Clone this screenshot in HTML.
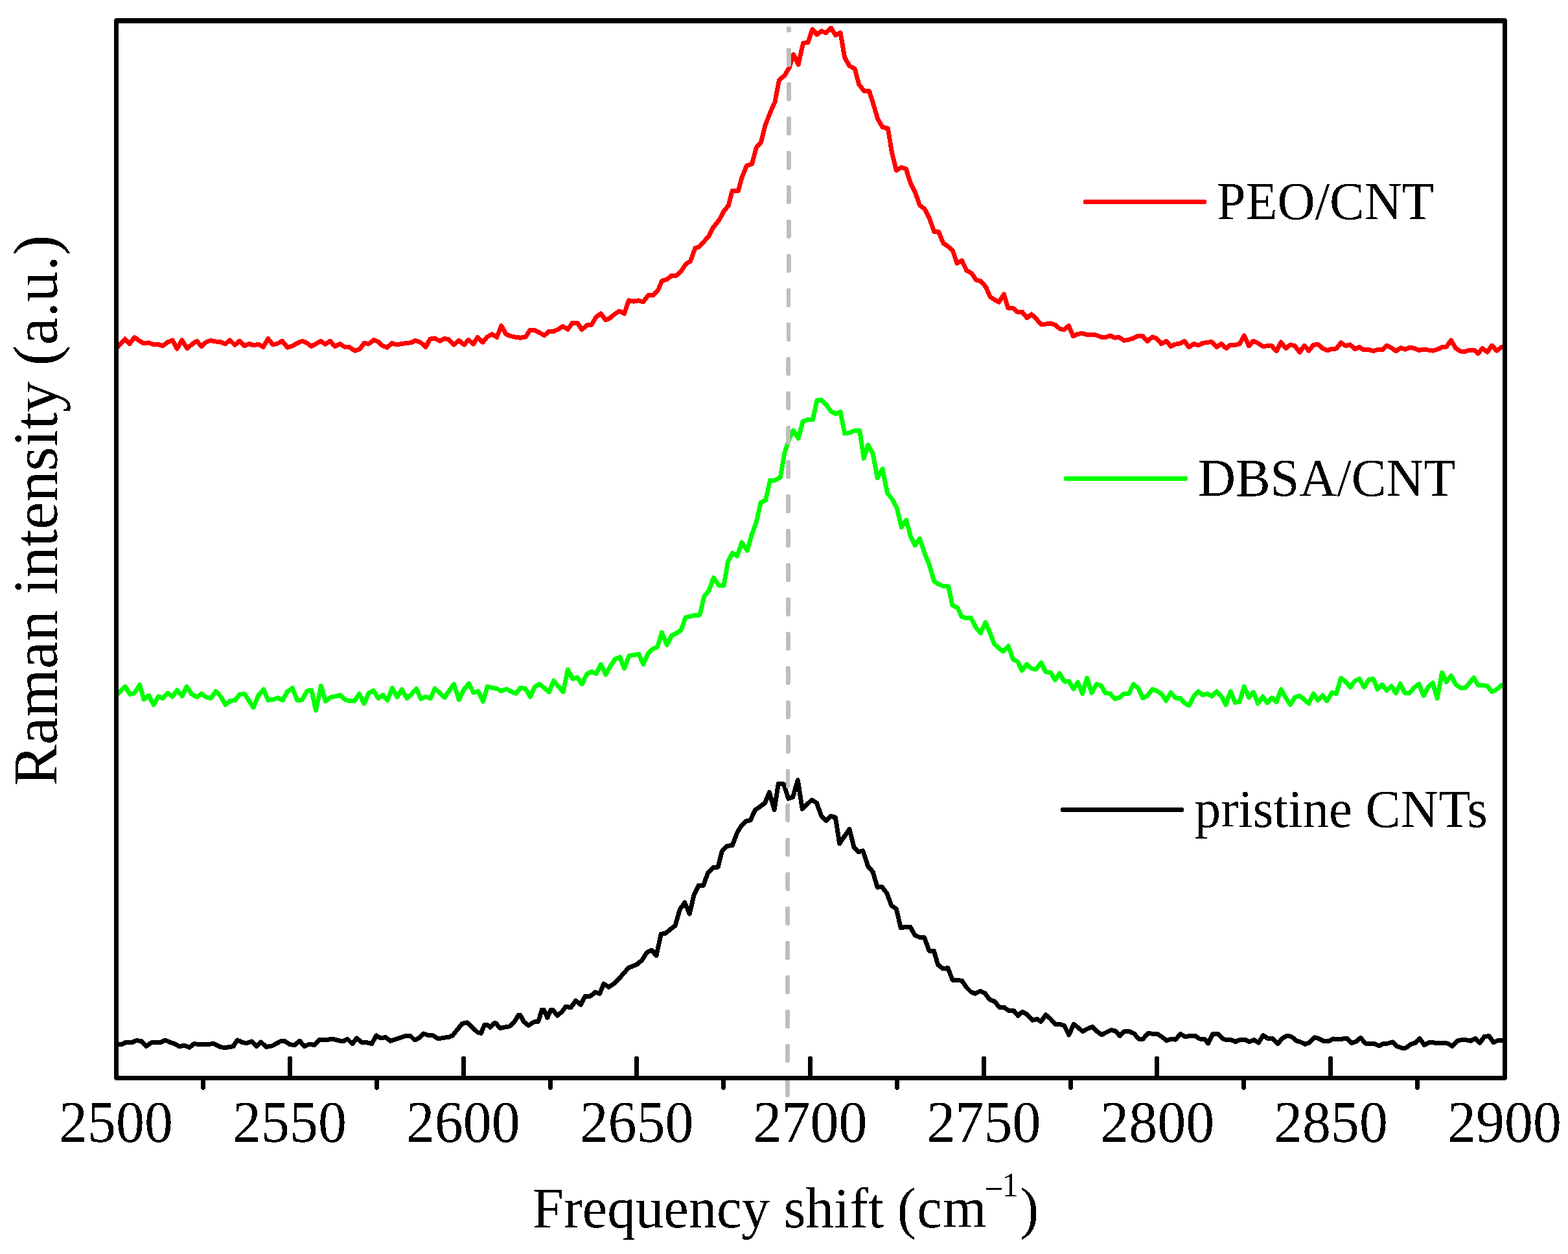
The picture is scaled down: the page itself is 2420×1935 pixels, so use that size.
<!DOCTYPE html>
<html lang="en"><head><meta charset="utf-8"><title>Raman spectra</title>
<style>html,body{margin:0;padding:0;background:#fff}body{width:2420px;height:1935px}svg{display:block}text{font-family:"Liberation Serif","Times New Roman",serif;fill:#000;filter:url(#bw)}rect,path,line{shape-rendering:crispEdges}.c{fill:none;stroke-width:7;stroke-linejoin:round;stroke-linecap:butt;shape-rendering:crispEdges}</style>
</head><body>
<svg width="2420" height="1935" viewBox="0 0 2420 1935">
<rect x="0" y="0" width="2420" height="1935" fill="#fff"/>
<filter id="bw" x="-5%" y="-20%" width="110%" height="140%" color-interpolation-filters="sRGB"><feComponentTransfer><feFuncA type="discrete" tableValues="0 1"/></feComponentTransfer></filter>
<clipPath id="plot"><rect x="179.5" y="32.0" width="2143.0" height="1631.5"/></clipPath>
<path id="dbsa" class="c" clip-path="url(#plot)" stroke="#00ff00" d="M181.0,1072.0 L193.2,1059.5 L200.5,1071.2 L207.5,1069.5 L215.5,1056.8 L222.0,1079.2 L229.5,1073.2 L237.0,1087.5 L244.5,1074.5 L251.2,1077.5 L258.8,1069.5 L266.2,1075.0 L273.2,1065.0 L281.2,1074.2 L288.2,1059.5 L295.8,1071.2 L303.8,1075.5 L310.8,1070.5 L318.0,1075.5 L325.5,1077.5 L333.0,1066.8 L340.5,1074.5 L348.0,1087.5 L355.5,1081.2 L362.5,1080.8 L370.0,1071.2 L377.5,1070.8 L384.5,1081.8 L391.2,1091.8 L398.8,1073.0 L407.0,1063.8 L413.8,1080.5 L420.8,1079.5 L428.8,1076.8 L436.2,1080.5 L443.2,1067.5 L451.2,1061.8 L458.8,1080.5 L466.2,1080.0 L473.8,1066.2 L480.8,1065.0 L487.5,1096.2 L495.5,1058.2 L502.5,1082.0 L510.0,1076.2 L517.5,1074.5 L525.0,1072.5 L532.5,1079.5 L540.0,1081.8 L547.5,1081.2 L554.5,1070.5 L562.0,1085.8 L569.2,1069.5 L576.5,1065.8 L583.8,1077.5 L590.8,1072.5 L598.0,1080.8 L605.5,1061.8 L613.0,1075.8 L620.0,1063.8 L628.0,1077.5 L635.0,1071.2 L642.5,1062.5 L649.5,1078.2 L657.0,1075.0 L664.5,1077.5 L671.2,1062.5 L678.8,1069.5 L686.2,1076.2 L693.2,1065.8 L700.5,1055.5 L708.3,1079.9 L715.8,1064.1 L723.7,1054.8 L730.6,1068.7 L738.0,1066.9 L745.5,1082.6 L752.3,1059.4 L759.4,1061.3 L766.8,1062.6 L773.8,1066.3 L781.3,1063.2 L788.7,1066.9 L796.1,1070.2 L803.0,1061.7 L810.4,1062.2 L818.4,1075.2 L825.2,1060.0 L832.7,1055.7 L840.1,1061.7 L847.5,1067.8 L854.4,1050.5 L861.4,1058.9 L869.2,1067.8 L876.3,1033.1 L883.7,1047.4 L891.1,1045.5 L898.1,1055.7 L905.6,1040.3 L913.0,1036.6 L920.4,1039.6 L927.3,1025.1 L934.7,1040.9 L942.1,1027.9 L949.5,1016.8 L957.0,1014.0 L963.5,1031.6 L970.9,1011.8 L978.3,1010.6 L985.7,1009.4 L992.8,1025.1 L1000.2,1008.4 L1007.6,1001.4 L1014.5,998.2 L1021.5,976.0 L1029.3,995.1 L1036.7,980.6 L1044.2,976.9 L1051.2,972.2 L1058.1,952.8 L1065.5,950.9 L1072.9,949.6 L1080.0,949.1 L1086.8,920.3 L1094.2,911.0 L1101.3,891.5 L1109.7,903.5 L1117.1,903.5 L1123.6,866.4 L1130.5,853.5 L1137.9,858.1 L1144.9,836.8 L1153.3,849.7 L1160.1,825.6 L1167.2,806.1 L1174.2,775.5 L1181.7,771.8 L1188.5,741.2 L1196.0,741.2 L1204.3,736.9 L1210.8,699.5 L1217.3,679.1 L1224.3,664.2 L1232.1,676.3 L1239.2,650.3 L1247.0,647.5 L1254.4,647.5 L1260.9,617.8 L1267.8,616.9 L1274.8,624.3 L1282.2,634.5 L1289.6,638.6 L1297.1,635.5 L1303.6,668.8 L1311.0,667.9 L1319.3,664.2 L1326.8,664.6 L1333.2,707.3 L1339.7,686.5 L1347.2,700.4 L1354.2,737.5 L1362.0,723.6 L1369.4,760.7 L1376.8,770.0 L1384.3,783.9 L1391.3,813.6 L1398.7,802.4 L1405.6,828.4 L1412.1,841.4 L1419.5,831.2 L1426.9,853.5 L1434.4,872.0 L1441.7,897.1 L1449.2,901.7 L1455.7,904.5 L1463.5,904.5 L1470.1,934.2 L1477.9,937.9 L1484.4,951.8 L1490.9,953.7 L1498.3,953.1 L1505.8,967.6 L1513.5,976.9 L1521.0,960.2 L1528.0,976.9 L1534.5,993.6 L1541.9,1000.6 L1548.4,1005.1 L1556.2,996.9 L1563.6,1017.7 L1570.7,1021.0 L1577.2,1034.4 L1584.6,1025.1 L1592.0,1031.6 L1598.9,1032.9 L1606.9,1022.3 L1613.7,1036.3 L1621.7,1038.1 L1628.2,1049.2 L1635.3,1039.0 L1642.1,1051.1 L1649.5,1051.1 L1657.0,1063.2 L1663.5,1052.6 L1670.5,1070.2 L1677.7,1046.1 L1684.8,1069.3 L1692.2,1055.7 L1699.6,1058.1 L1706.1,1069.6 L1713.5,1070.2 L1720.6,1078.6 L1727.5,1076.5 L1734.9,1070.2 L1742.3,1070.2 L1749.4,1055.7 L1757.1,1062.6 L1763.6,1077.1 L1771.1,1073.4 L1778.5,1063.7 L1785.9,1066.3 L1793.3,1071.5 L1799.5,1081.2 L1807.0,1068.8 L1814.2,1077.0 L1821.2,1077.0 L1828.0,1084.5 L1835.0,1088.8 L1842.5,1074.5 L1849.5,1067.0 L1856.2,1072.5 L1863.2,1070.5 L1870.5,1074.2 L1878.0,1067.0 L1885.0,1074.5 L1892.0,1087.5 L1899.2,1066.8 L1906.2,1084.2 L1913.2,1082.5 L1920.2,1059.5 L1927.5,1076.2 L1934.5,1068.0 L1941.5,1085.5 L1948.8,1075.0 L1955.8,1084.5 L1963.0,1076.8 L1970.0,1083.2 L1977.2,1063.8 L1984.5,1077.0 L1991.5,1087.5 L1998.2,1076.2 L2005.5,1073.8 L2013.0,1079.5 L2020.0,1085.8 L2027.0,1070.5 L2034.2,1080.5 L2041.2,1073.0 L2048.2,1081.8 L2055.5,1068.8 L2062.5,1070.5 L2069.5,1046.2 L2076.8,1051.8 L2084.0,1060.5 L2091.0,1050.8 L2098.0,1047.5 L2105.5,1060.5 L2112.5,1048.8 L2119.5,1047.5 L2126.2,1063.8 L2133.0,1056.2 L2140.2,1065.5 L2147.5,1058.8 L2154.2,1069.5 L2161.2,1055.0 L2168.2,1069.2 L2175.8,1069.2 L2183.0,1060.5 L2190.0,1055.5 L2197.0,1073.8 L2204.0,1060.5 L2211.2,1053.8 L2218.2,1077.5 L2225.5,1038.0 L2232.5,1052.5 L2239.5,1042.5 L2246.8,1056.2 L2253.8,1061.2 L2260.8,1062.0 L2268.0,1053.8 L2274.5,1045.5 L2281.2,1057.0 L2288.2,1057.0 L2295.5,1058.8 L2302.5,1067.5 L2310.0,1063.8 L2317.5,1057.0 L2320.5,1057.0"/>
<path id="cnt" class="c" clip-path="url(#plot)" stroke="#000" d="M180.0,1611.2 L188.8,1611.2 L195.0,1608.0 L202.5,1609.0 L210.0,1605.8 L217.5,1606.2 L225.5,1614.5 L233.8,1608.8 L247.5,1608.8 L255.0,1605.0 L262.5,1608.2 L270.0,1610.8 L277.0,1615.0 L283.8,1613.0 L292.5,1616.2 L299.5,1610.5 L306.2,1611.5 L320.0,1611.5 L330.0,1610.5 L340.0,1615.5 L347.5,1616.8 L360.0,1614.5 L366.2,1605.0 L375.0,1608.8 L381.2,1609.5 L388.8,1607.0 L396.2,1614.5 L402.5,1608.0 L411.2,1615.5 L420.0,1613.8 L432.5,1607.0 L440.0,1606.8 L447.5,1611.8 L455.0,1612.5 L462.5,1606.2 L470.0,1614.5 L477.5,1611.2 L485.5,1612.5 L492.5,1604.5 L500.0,1605.0 L513.8,1603.2 L522.5,1605.5 L528.8,1607.0 L536.2,1603.2 L543.8,1610.8 L550.5,1602.0 L558.8,1608.8 L566.2,1608.8 L573.8,1610.5 L580.8,1598.0 L587.5,1602.0 L595.0,1600.5 L602.5,1606.2 L612.5,1603.0 L625.0,1598.8 L633.8,1598.8 L640.0,1605.0 L647.5,1601.2 L653.8,1595.0 L661.2,1597.5 L668.8,1598.0 L676.2,1603.0 L685.0,1601.2 L692.5,1600.5 L698.8,1597.5 L713.2,1579.6 L720.9,1577.9 L736.9,1592.8 L742.5,1594.2 L748.0,1581.0 L751.5,1581.0 L756.4,1585.2 L762.6,1578.9 L765.4,1578.9 L771.7,1586.8 L778.0,1585.2 L786.3,1583.8 L793.3,1577.5 L800.2,1566.4 L803.0,1566.4 L808.6,1576.8 L815.5,1582.4 L823.9,1577.1 L830.9,1576.1 L836.4,1558.0 L839.2,1558.0 L844.8,1570.5 L850.3,1558.0 L853.1,1558.0 L860.1,1567.1 L867.1,1561.5 L873.3,1553.1 L881.0,1554.8 L888.6,1544.1 L896.3,1550.3 L903.2,1537.1 L911.6,1537.1 L918.6,1530.9 L925.5,1533.4 L931.8,1518.1 L939.4,1523.2 L947.8,1517.6 L956.1,1509.3 L970.1,1493.3 L982.6,1488.4 L991.0,1481.4 L998.6,1469.3 L1005.9,1466.1 L1012.9,1474.8 L1020.2,1441.4 L1027.5,1440.0 L1034.8,1433.8 L1042.1,1428.2 L1049.4,1403.2 L1056.8,1392.7 L1064.1,1410.1 L1071.4,1380.2 L1078.3,1366.3 L1085.6,1366.3 L1092.8,1346.4 L1101.1,1338.0 L1108.1,1338.0 L1114.3,1313.6 L1122.0,1305.3 L1130.3,1304.6 L1137.3,1285.8 L1142.9,1276.1 L1151.2,1267.0 L1158.2,1265.6 L1165.2,1250.3 L1180.5,1239.2 L1187.4,1222.5 L1195.1,1249.6 L1201.3,1209.2 L1209.7,1209.9 L1216.7,1232.2 L1223.6,1230.1 L1231.3,1203.7 L1238.2,1248.2 L1252.9,1234.3 L1260.5,1239.2 L1267.5,1258.7 L1275.1,1266.3 L1281.8,1259.2 L1289.4,1261.3 L1295.7,1301.7 L1311.0,1279.4 L1318.0,1307.3 L1324.9,1314.9 L1331.9,1312.8 L1339.5,1336.5 L1347.2,1345.5 L1354.2,1369.2 L1361.1,1368.5 L1368.8,1378.3 L1375.7,1397.1 L1383.4,1402.6 L1390.3,1431.9 L1397.3,1430.5 L1405.0,1430.5 L1411.9,1443.0 L1419.6,1446.5 L1426.5,1446.5 L1434.2,1467.4 L1441.3,1467.2 L1447.8,1489.1 L1455.3,1494.6 L1463.0,1493.7 L1470.1,1512.2 L1477.5,1512.2 L1484.9,1513.5 L1491.4,1523.4 L1498.8,1530.8 L1505.3,1533.2 L1512.8,1529.3 L1520.2,1532.7 L1527.6,1542.5 L1535.0,1545.1 L1542.4,1554.5 L1549.9,1554.5 L1557.3,1559.9 L1564.7,1559.6 L1571.2,1567.3 L1577.7,1561.4 L1585.1,1565.1 L1593.5,1574.4 L1600.9,1572.5 L1606.5,1576.6 L1613.9,1566.0 L1621.3,1572.2 L1628.7,1580.3 L1635.2,1580.3 L1642.6,1582.7 L1649.7,1597.0 L1657.1,1580.3 L1664.0,1585.5 L1670.8,1591.5 L1678.8,1587.4 L1686.2,1584.2 L1693.7,1592.0 L1700.5,1596.7 L1707.6,1592.9 L1715.0,1589.2 L1721.5,1591.1 L1728.3,1598.5 L1735.4,1591.5 L1742.8,1591.5 L1750.2,1594.8 L1757.7,1603.2 L1764.2,1603.2 L1771.6,1594.4 L1779.0,1595.2 L1786.4,1595.4 L1793.8,1600.4 L1800.3,1605.6 L1807.8,1603.2 L1814.2,1604.1 L1822.0,1595.5 L1829.5,1600.0 L1837.0,1598.2 L1844.5,1598.2 L1851.2,1603.0 L1858.8,1603.2 L1864.5,1610.0 L1872.0,1595.0 L1879.5,1595.0 L1887.0,1602.5 L1892.5,1605.0 L1900.0,1604.5 L1907.0,1607.5 L1914.5,1604.0 L1921.2,1604.0 L1928.0,1607.5 L1935.5,1604.5 L1942.5,1609.0 L1949.5,1597.5 L1956.5,1602.5 L1964.0,1602.5 L1972.0,1610.5 L1979.5,1602.0 L1987.0,1598.0 L1993.8,1600.0 L2001.2,1606.2 L2007.5,1608.0 L2014.5,1611.2 L2021.2,1608.8 L2028.8,1600.8 L2035.0,1602.5 L2042.5,1606.2 L2050.0,1607.0 L2057.5,1603.0 L2065.0,1604.0 L2071.2,1603.2 L2078.2,1602.0 L2085.8,1609.5 L2092.5,1607.5 L2100.0,1601.2 L2107.0,1610.0 L2114.5,1610.0 L2121.2,1610.5 L2128.2,1613.8 L2135.0,1610.5 L2142.5,1610.0 L2149.5,1608.0 L2156.2,1614.5 L2163.2,1617.0 L2170.0,1617.0 L2177.5,1611.2 L2183.8,1609.5 L2191.2,1602.5 L2198.2,1612.5 L2205.5,1608.8 L2212.5,1608.8 L2220.0,1610.0 L2227.0,1609.5 L2234.0,1610.0 L2241.5,1614.2 L2248.8,1606.2 L2256.2,1604.5 L2263.8,1605.0 L2270.0,1606.2 L2277.0,1602.5 L2284.0,1609.2 L2291.2,1599.2 L2298.2,1598.8 L2305.0,1608.8 L2312.5,1605.0 L2319.5,1605.0"/>
<path id="peo" class="c" clip-path="url(#plot)" stroke="#ff0000" d="M181.0,536.2 L193.0,523.0 L200.0,530.5 L207.5,520.5 L214.5,525.5 L221.8,530.0 L229.2,528.8 L236.2,531.2 L243.8,531.2 L251.2,533.8 L258.8,528.0 L266.2,525.0 L273.2,538.0 L280.8,525.0 L288.8,537.5 L296.2,531.2 L303.8,526.2 L310.8,534.5 L318.0,528.0 L325.0,525.5 L332.5,527.0 L340.0,527.5 L347.5,530.8 L355.0,525.0 L362.5,532.5 L369.5,526.2 L377.0,533.8 L384.5,530.5 L392.0,533.0 L398.8,531.2 L406.2,535.5 L413.8,522.5 L421.2,532.0 L428.8,530.0 L435.5,526.2 L443.8,536.2 L451.2,533.8 L458.8,529.5 L466.2,526.2 L473.2,528.8 L480.5,534.5 L487.5,530.8 L495.0,526.2 L502.0,531.2 L509.5,526.2 L517.0,534.5 L524.5,530.5 L531.2,535.0 L538.8,535.5 L548.0,541.2 L555.0,538.8 L562.0,529.5 L569.2,530.5 L577.0,524.5 L583.8,527.5 L590.8,533.8 L597.5,536.2 L605.0,529.5 L612.5,532.0 L620.0,530.5 L627.0,529.5 L634.2,528.8 L641.2,525.5 L648.8,528.0 L657.0,535.5 L663.8,523.0 L670.8,522.0 L678.8,526.2 L685.8,522.5 L692.5,523.8 L700.5,532.0 L708.3,525.4 L716.3,531.9 L723.2,524.5 L730.6,531.0 L737.1,520.4 L745.1,528.2 L751.9,519.9 L759.4,515.8 L766.8,520.4 L773.7,502.8 L781.1,515.8 L788.1,518.6 L795.5,520.2 L803.0,521.2 L811.3,519.9 L817.8,509.6 L825.2,509.6 L832.7,513.4 L840.1,517.6 L847.1,511.5 L854.0,511.5 L861.4,508.2 L868.5,503.7 L876.3,508.2 L883.7,498.0 L891.1,498.0 L898.1,508.7 L905.6,501.9 L913.0,501.3 L919.9,489.2 L927.3,484.0 L934.7,493.9 L941.2,491.1 L948.6,484.6 L956.0,480.0 L963.5,484.0 L970.5,463.6 L978.3,465.1 L985.7,463.8 L992.8,466.0 L1000.2,455.8 L1007.6,455.8 L1015.0,448.8 L1021.9,433.2 L1029.3,431.2 L1036.7,425.2 L1043.8,425.2 L1051.0,418.7 L1058.4,407.6 L1065.5,403.0 L1072.9,382.9 L1079.4,380.7 L1086.8,372.4 L1094.2,364.0 L1100.0,351.9 L1109.7,339.9 L1117.1,326.1 L1124.5,316.8 L1130.1,294.6 L1139.4,294.6 L1144.9,274.2 L1152.4,255.6 L1160.7,252.8 L1167.2,227.8 L1174.6,219.4 L1181.1,193.5 L1188.5,174.0 L1196.0,157.3 L1202.4,123.9 L1210.8,116.5 L1218.2,104.4 L1224.7,84.0 L1232.1,99.8 L1239.6,66.4 L1247.0,65.5 L1254.0,45.0 L1260.9,53.4 L1267.8,47.8 L1274.8,51.0 L1282.6,43.2 L1289.6,54.3 L1297.1,50.6 L1303.6,88.6 L1311.0,101.6 L1319.3,106.3 L1325.8,130.4 L1333.2,140.2 L1341.6,140.6 L1348.1,161.4 L1354.6,183.3 L1362.0,196.3 L1370.4,198.1 L1376.8,237.1 L1383.3,263.0 L1390.8,258.4 L1398.2,260.3 L1405.6,283.5 L1413.0,298.3 L1419.5,316.7 L1426.9,322.3 L1434.3,336.2 L1441.7,357.5 L1448.6,357.5 L1455.7,375.1 L1463.1,380.1 L1470.5,387.2 L1477.0,406.1 L1484.4,402.0 L1491.8,417.3 L1499.3,421.5 L1506.7,432.1 L1514.1,434.0 L1521.5,442.9 L1528.0,457.7 L1534.5,462.3 L1541.9,466.0 L1549.4,454.0 L1555.8,475.3 L1563.3,475.3 L1570.7,481.8 L1577.7,481.4 L1585.2,490.7 L1592.0,485.0 L1599.4,492.0 L1606.9,500.9 L1614.3,500.0 L1621.7,498.9 L1628.6,501.3 L1635.6,507.4 L1642.1,508.7 L1649.5,502.8 L1656.4,518.9 L1663.5,515.2 L1670.9,514.7 L1678.3,516.5 L1685.7,516.5 L1692.2,517.1 L1699.6,520.2 L1707.1,520.2 L1713.5,518.0 L1721.0,521.2 L1727.5,520.4 L1734.9,525.4 L1742.3,524.1 L1748.8,522.1 L1756.2,518.4 L1763.6,518.4 L1770.7,526.7 L1778.5,519.9 L1785.5,522.6 L1792.4,530.6 L1800.0,526.2 L1807.0,534.5 L1813.8,531.2 L1821.2,530.0 L1828.0,526.2 L1835.0,535.8 L1842.5,530.5 L1849.5,533.0 L1856.2,529.5 L1863.8,528.2 L1870.5,527.5 L1878.0,535.5 L1885.0,530.5 L1892.5,537.5 L1899.2,532.0 L1906.2,532.5 L1913.2,530.5 L1920.2,518.0 L1927.5,533.8 L1934.5,526.2 L1941.5,529.5 L1948.8,534.5 L1955.8,533.8 L1963.0,533.8 L1970.0,541.8 L1977.0,528.0 L1984.5,537.5 L1991.5,532.0 L1998.5,533.8 L2005.8,543.8 L2013.0,533.2 L2020.0,541.2 L2027.0,532.5 L2034.0,531.2 L2041.2,537.5 L2048.8,540.8 L2055.5,538.2 L2062.5,538.0 L2069.5,528.8 L2076.8,533.8 L2083.8,531.8 L2091.0,538.8 L2098.0,535.5 L2105.0,540.0 L2112.5,539.5 L2119.5,541.8 L2126.2,539.5 L2133.2,540.0 L2140.0,533.0 L2147.5,536.8 L2154.5,541.8 L2161.8,536.8 L2168.8,539.2 L2175.8,536.2 L2183.0,537.5 L2190.0,540.5 L2197.0,539.2 L2204.0,540.0 L2211.2,541.2 L2218.2,539.2 L2225.5,535.8 L2232.5,535.0 L2239.5,525.0 L2247.0,537.5 L2253.8,542.0 L2260.8,542.5 L2268.0,540.0 L2275.0,540.0 L2281.2,545.5 L2288.0,537.5 L2295.5,543.2 L2302.5,533.2 L2310.0,541.2 L2317.5,535.5 L2320.5,535.5"/>
<g id="guide" fill="#bebebe"><rect x="1211.87" y="1663.90" width="6.9" height="29.00" rx="2.4"/><rect x="1211.94" y="1610.90" width="6.9" height="29.00" rx="2.4"/><rect x="1212.02" y="1557.90" width="6.9" height="29.00" rx="2.4"/><rect x="1212.09" y="1504.90" width="6.9" height="29.00" rx="2.4"/><rect x="1212.17" y="1451.90" width="6.9" height="29.00" rx="2.4"/><rect x="1212.24" y="1398.90" width="6.9" height="29.00" rx="2.4"/><rect x="1212.31" y="1345.90" width="6.9" height="29.00" rx="2.4"/><rect x="1212.39" y="1292.90" width="6.9" height="29.00" rx="2.4"/><rect x="1212.46" y="1239.90" width="6.9" height="29.00" rx="2.4"/><rect x="1212.54" y="1186.90" width="6.9" height="29.00" rx="2.4"/><rect x="1212.61" y="1133.90" width="6.9" height="29.00" rx="2.4"/><rect x="1212.68" y="1080.90" width="6.9" height="29.00" rx="2.4"/><rect x="1212.76" y="1027.90" width="6.9" height="29.00" rx="2.4"/><rect x="1212.83" y="974.90" width="6.9" height="29.00" rx="2.4"/><rect x="1212.90" y="921.90" width="6.9" height="29.00" rx="2.4"/><rect x="1212.98" y="868.90" width="6.9" height="29.00" rx="2.4"/><rect x="1213.05" y="815.90" width="6.9" height="29.00" rx="2.4"/><rect x="1213.13" y="762.90" width="6.9" height="29.00" rx="2.4"/><rect x="1213.20" y="709.90" width="6.9" height="29.00" rx="2.4"/><rect x="1213.27" y="656.90" width="6.9" height="29.00" rx="2.4"/><rect x="1213.35" y="603.90" width="6.9" height="29.00" rx="2.4"/><rect x="1213.42" y="550.90" width="6.9" height="29.00" rx="2.4"/><rect x="1213.50" y="497.90" width="6.9" height="29.00" rx="2.4"/><rect x="1213.57" y="444.90" width="6.9" height="29.00" rx="2.4"/><rect x="1213.64" y="391.90" width="6.9" height="29.00" rx="2.4"/><rect x="1213.72" y="338.90" width="6.9" height="29.00" rx="2.4"/><rect x="1213.79" y="285.90" width="6.9" height="29.00" rx="2.4"/><rect x="1213.86" y="232.90" width="6.9" height="29.00" rx="2.4"/><rect x="1213.94" y="179.90" width="6.9" height="29.00" rx="2.4"/><rect x="1214.01" y="126.90" width="6.9" height="29.00" rx="2.4"/><rect x="1214.09" y="73.90" width="6.9" height="29.00" rx="2.4"/><rect x="1214.15" y="41.00" width="6.9" height="8.90" rx="2.4"/></g>
<path id="frame" fill="#000" fill-rule="evenodd" d="M178.8,28 L2323.2,28 L2326,30.8 L2326,1664.2 L2323.2,1667 L178.8,1667 L176,1664.2 L176,30.8 Z M183,36 L2319,36 L2319,1660 L183,1660 Z"/>
<g id="ticks" stroke="#000" stroke-width="7" stroke-linecap="round" shape-rendering="crispEdges"><line x1="447.5" y1="1663.5" x2="447.5" y2="1633.4"/><line x1="715.5" y1="1663.5" x2="715.5" y2="1633.4"/><line x1="982.5" y1="1663.5" x2="982.5" y2="1633.4"/><line x1="1250.5" y1="1663.5" x2="1250.5" y2="1633.4"/><line x1="1518.5" y1="1663.5" x2="1518.5" y2="1633.4"/><line x1="1785.5" y1="1663.5" x2="1785.5" y2="1633.4"/><line x1="2053.5" y1="1663.5" x2="2053.5" y2="1633.4"/><line x1="313.5" y1="1663.5" x2="313.5" y2="1678.2"/><line x1="581.5" y1="1663.5" x2="581.5" y2="1678.2"/><line x1="849.5" y1="1663.5" x2="849.5" y2="1678.2"/><line x1="1116.5" y1="1663.5" x2="1116.5" y2="1678.2"/><line x1="1384.5" y1="1663.5" x2="1384.5" y2="1678.2"/><line x1="1652.5" y1="1663.5" x2="1652.5" y2="1678.2"/><line x1="1919.5" y1="1663.5" x2="1919.5" y2="1678.2"/><line x1="2187.5" y1="1663.5" x2="2187.5" y2="1678.2"/></g>
<text transform="translate(179.0 1762.0) scale(0.972 1)" font-size="90.5" text-anchor="middle">2500</text>
<text transform="translate(446.9 1762.0) scale(0.972 1)" font-size="90.5" text-anchor="middle">2550</text>
<text transform="translate(714.8 1762.0) scale(0.972 1)" font-size="90.5" text-anchor="middle">2600</text>
<text transform="translate(982.6 1762.0) scale(0.972 1)" font-size="90.5" text-anchor="middle">2650</text>
<text transform="translate(1250.5 1762.0) scale(0.972 1)" font-size="90.5" text-anchor="middle">2700</text>
<text transform="translate(1518.4 1762.0) scale(0.972 1)" font-size="90.5" text-anchor="middle">2750</text>
<text transform="translate(1786.2 1762.0) scale(0.972 1)" font-size="90.5" text-anchor="middle">2800</text>
<text transform="translate(2054.1 1762.0) scale(0.972 1)" font-size="90.5" text-anchor="middle">2850</text>
<text transform="translate(2322.0 1762.0) scale(0.972 1)" font-size="90.5" text-anchor="middle">2900</text>
<text id="xl" transform="translate(821.60 1894.30) scale(0.9756 1)" font-size="89">Frequency shift <tspan dx="-1.03">(</tspan><tspan dx="1.54">c</tspan><tspan dx="1.54">m</tspan><tspan font-size="53.4" dx="-3.68" dy="-42.60">−</tspan><tspan font-size="53.4" dx="-2.26" dy="-5.60">1</tspan><tspan dx="1.88" dy="48.20">)</tspan></text>
<text id="yl" transform="translate(87.60 787.60) rotate(-90) scale(0.9827 1)" font-size="97.4" text-anchor="middle">Raman intensity (a.u.)</text>
<rect x="1671.9" y="308.0" width="190.1" height="7" rx="2.6" fill="#ff0000"/>
<text transform="translate(1877.70 337.60) scale(0.979 1)" font-size="82.2">PEO/CNT</text>
<rect x="1642.0" y="735.0" width="190.7" height="7" rx="2.6" fill="#00ff00"/>
<text transform="translate(1848.90 764.50) scale(0.978 1)" font-size="82.2">DBSA/CNT</text>
<rect x="1636.9" y="1246.0" width="190.2" height="7" rx="2.6" fill="#000"/>
<text transform="translate(1843.60 1276.20) scale(0.988 1)" font-size="82.2">pristine CNTs</text>
</svg></body></html>
